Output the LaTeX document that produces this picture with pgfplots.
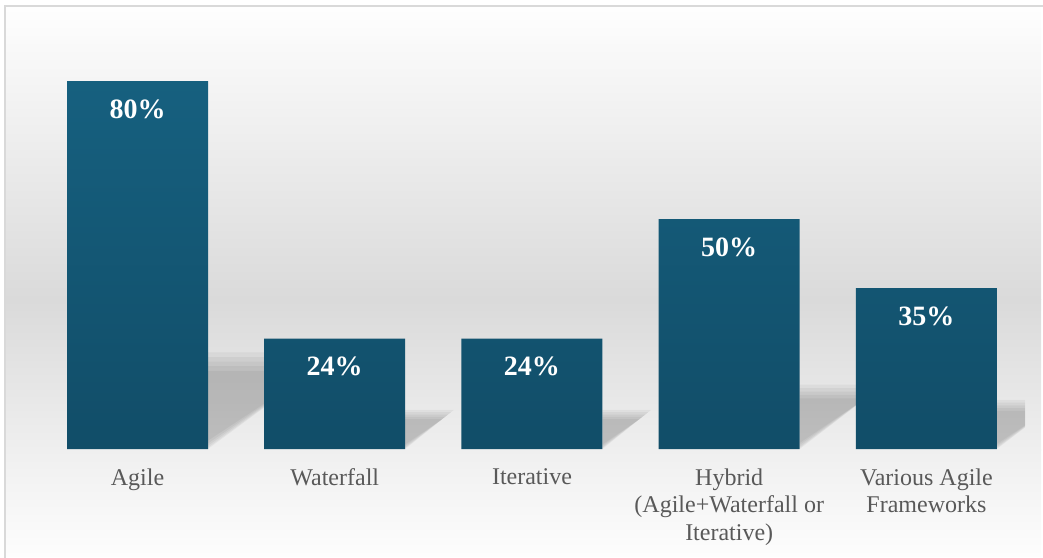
\documentclass[border=0pt]{standalone}
\usepackage{pgfplots}
\pgfplotsset{compat=1.18}
\usepackage{fontspec}
\setmainfont{Liberation Serif}
\definecolor{barTop}{HTML}{16607F}
\definecolor{barBot}{HTML}{114D68}
\definecolor{lblGray}{HTML}{595959}
\definecolor{bgA}{HTML}{FEFEFE}
\definecolor{bgB}{HTML}{DADADA}
\definecolor{bgC}{HTML}{EFEFEF}
\definecolor{bgD}{HTML}{FDFDFD}
\definecolor{frameC}{HTML}{D9D9D9}
\begin{document}
\begin{tikzpicture}
\useasboundingbox (0,0) rectangle (521.5pt,278.5pt);
% background
\fill[top color=bgA, bottom color=bgB, draw=none] (3pt,128.5pt) rectangle (520.5pt,275pt);
\fill[top color=bgB, bottom color=bgC, draw=none] (3pt,53.5pt) rectangle (520.5pt,128.6pt);
\fill[top color=bgC, bottom color=bgD, draw=none] (3pt,0.5pt) rectangle (520.5pt,53.6pt);
\draw[frameC, line width=0.75pt] (2.5pt,-1pt) -- (2.5pt,275.5pt) -- (523pt,275.5pt);
\begin{axis}[
  at={(19.44pt,54pt)}, anchor=south west,
  scale only axis, width=493.1pt, height=207pt,
  xmin=-0.5, xmax=4.5, ymin=0, ymax=90,
  axis line style={draw=none},
  major tick length=0pt,
  ytick=\empty,
  xtick={0,1,2,3,4},
  xticklabels={Agile, Waterfall, Iterative, {Hybrid\\(Agile+Waterfall or\\Iterative)}, {Various Agile\\Frameworks}},
  xticklabel style={align=center, font=\fontsize{12pt}{13.6pt}\selectfont, text=lblGray, anchor=north, yshift=-6.5pt},
  shadow/.style={fill=black, fill opacity=0.045, draw=none},
]
% shadows (decorative, behind bars)
\addplot[shadow] coordinates {(0.357,0) (0.357,21) (1.021,21)} --cycle;
\addplot[shadow] coordinates {(0.357,0.3) (0.357,20) (0.989,20)} --cycle;
\addplot[shadow] coordinates {(0.357,0.7) (0.357,19) (0.957,19)} --cycle;
\addplot[shadow] coordinates {(0.357,1.2) (0.357,18) (0.926,18)} --cycle;
\addplot[shadow] coordinates {(0.357,1.8) (0.357,17) (0.894,17)} --cycle;
\addplot[shadow] coordinates {(1.357,0) (1.357,8.5) (1.604,8.5)} --cycle;
\addplot[shadow] coordinates {(1.357,0.2) (1.357,8) (1.589,8)} --cycle;
\addplot[shadow] coordinates {(1.357,0.4) (1.357,7.5) (1.575,7.5)} --cycle;
\addplot[shadow] coordinates {(1.357,0.7) (1.357,7) (1.560,7)} --cycle;
\addplot[shadow] coordinates {(1.357,1) (1.357,6.5) (1.546,6.5)} --cycle;
\addplot[shadow] coordinates {(2.357,0) (2.357,8.5) (2.604,8.5)} --cycle;
\addplot[shadow] coordinates {(2.357,0.2) (2.357,8) (2.589,8)} --cycle;
\addplot[shadow] coordinates {(2.357,0.4) (2.357,7.5) (2.575,7.5)} --cycle;
\addplot[shadow] coordinates {(2.357,0.7) (2.357,7) (2.560,7)} --cycle;
\addplot[shadow] coordinates {(2.357,1) (2.357,6.5) (2.546,6.5)} --cycle;
\addplot[shadow] coordinates {(3.357,0) (3.357,14) (3.783,14)} --cycle;
\addplot[shadow] coordinates {(3.357,0.25) (3.357,13.25) (3.760,13.25)} --cycle;
\addplot[shadow] coordinates {(3.357,0.5) (3.357,12.5) (3.737,12.5)} --cycle;
\addplot[shadow] coordinates {(3.357,0.9) (3.357,11.75) (3.714,11.75)} --cycle;
\addplot[shadow] coordinates {(3.357,1.3) (3.357,11) (3.691,11)} --cycle;
\addplot[shadow] coordinates {(4.357,0) (4.357,10.7) (4.683,10.7)} --cycle;
\addplot[shadow] coordinates {(4.357,0.2) (4.357,10.1) (4.665,10.1)} --cycle;
\addplot[shadow] coordinates {(4.357,0.45) (4.357,9.5) (4.647,9.5)} --cycle;
\addplot[shadow] coordinates {(4.357,0.75) (4.357,8.9) (4.628,8.9)} --cycle;
\addplot[shadow] coordinates {(4.357,1.1) (4.357,8.3) (4.610,8.3)} --cycle;
% bars
\addplot[ybar, bar width=70.5pt, bar shift=0pt, draw=none,
  top color=barTop, bottom color=barBot,
  point meta=explicit symbolic,
  nodes near coords,
  every node near coord/.append style={anchor=center, yshift=-14pt, text=white,
    font=\fontsize{14pt}{16pt}\selectfont\bfseries},
] coordinates {(0,80) [80\%] (1,24) [24\%] (2,24) [24\%] (3,50) [50\%] (4,35) [35\%]};
\end{axis}
\end{tikzpicture}
\end{document}
